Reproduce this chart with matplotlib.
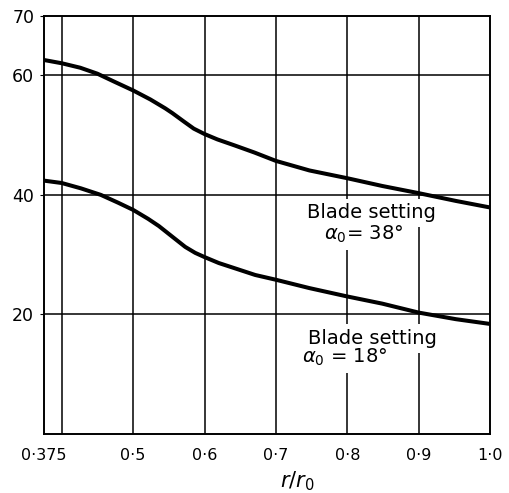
import matplotlib

matplotlib.use("Agg")

import matplotlib.pyplot as plt

# r/r0 positions and blade angle readings for each blade setting
R_HIGH = [0.375, 0.4, 0.426, 0.45, 0.473, 0.5, 0.524, 0.545, 0.555, 0.571, 0.585, 0.6,
          0.618, 0.642, 0.67, 0.7, 0.747, 0.8, 0.849, 0.9, 0.952, 1.0]
ANGLE_HIGH = [62.6, 62.05, 61.3, 60.3, 59.0, 57.5, 56.0, 54.5, 53.7, 52.3, 51.1, 50.2,
              49.3, 48.3, 47.1, 45.7, 44.1, 42.8, 41.5, 40.3, 39.0, 37.9]

R_LOW = [0.375, 0.4, 0.427, 0.455, 0.479, 0.5, 0.521, 0.536, 0.555, 0.573, 0.587, 0.6,
         0.62, 0.643, 0.671, 0.7, 0.747, 0.8, 0.849, 0.9, 0.952, 1.0]
ANGLE_LOW = [42.4, 42.0, 41.1, 40.0, 38.7, 37.5, 36.0, 34.8, 33.0, 31.3, 30.3, 29.6,
             28.6, 27.7, 26.6, 25.8, 24.4, 23.0, 21.8, 20.3, 19.2, 18.4]

X_TICKS = [0.375, 0.5, 0.6, 0.7, 0.8, 0.9, 1.0]
X_TICK_LABELS = ["0·375", "0·5", "0·6", "0·7", "0·8", "0·9", "1·0"]
X_GRID = [0.4, 0.5, 0.6, 0.7, 0.8, 0.9]
Y_TICKS = [20, 40, 60, 70]
Y_GRID = [20, 40, 60]

plt.rcParams.update({"font.family": "DejaVu Sans"})

fig = plt.figure(figsize=(5.1, 4.93), dpi=100)
ax = fig.add_axes([0.086, 0.12, 0.875, 0.848])
ax.set_xlim(0.375, 1.0)
ax.set_ylim(0, 70)

for x in X_GRID:
    ax.axvline(x, color="black", linewidth=1.1, zorder=1)
for y in Y_GRID:
    ax.axhline(y, color="black", linewidth=1.1, zorder=1)

ax.plot(R_HIGH, ANGLE_HIGH, color="black", linewidth=2.9, solid_joinstyle="round", zorder=3)
ax.plot(R_LOW, ANGLE_LOW, color="black", linewidth=2.9, solid_joinstyle="round", zorder=3)


def _label(x, y, s):
    # white patch behind the text breaks the grid lines, like the drawing
    ax.text(x, y, s, ha="center", va="center", fontsize=14, color="white",
            bbox=dict(facecolor="white", edgecolor="none", pad=3.5), zorder=2)
    ax.text(x, y, s, ha="center", va="center", fontsize=14, color="black", zorder=4)


_label(0.834, 37.0, "Blade setting")
_label(0.823, 33.4, r"$\alpha_0$= 38°")
_label(0.835, 16.0, "Blade setting")
_label(0.797, 12.8, r"$\alpha_0$ = 18°")

ax.set_xticks(X_TICKS)
ax.set_xticklabels(X_TICK_LABELS, fontsize=11.5)
ax.set_yticks(Y_TICKS)
ax.set_yticklabels([str(v) for v in Y_TICKS], fontsize=12.5)
ax.tick_params(axis="x", length=0, pad=10)
ax.tick_params(axis="y", length=3, pad=4)
ax.set_xlabel(r"$\mathit{r}/\mathit{r}_0$", fontsize=15, labelpad=0)
ax.xaxis.set_label_coords(0.567, -0.085)

for spine in ax.spines.values():
    spine.set_linewidth(1.4)

fig.savefig("out.png", dpi=100)
